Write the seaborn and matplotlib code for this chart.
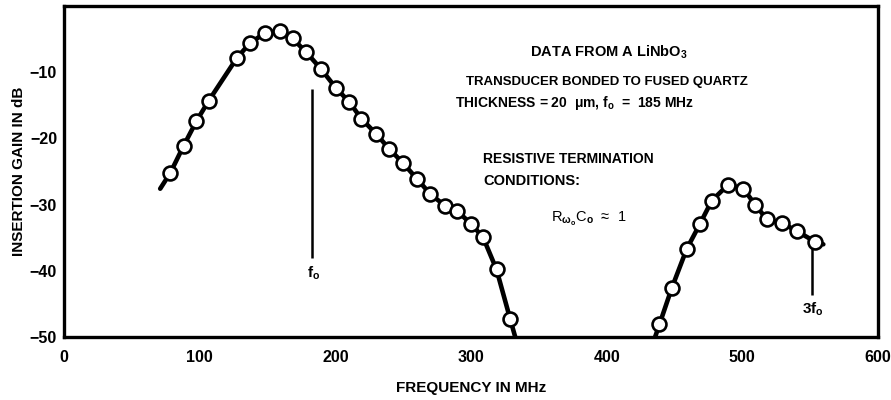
import matplotlib
matplotlib.use("Agg")
import matplotlib.pyplot as plt
import seaborn as sns
import pandas as pd

# ---- data ----
lobe1_freq = [78.4, 88.2, 97.6, 106.7, 127.6, 136.9, 147.9, 159.0, 168.5, 178.6,
              189.4, 200.5, 210.3, 219.1, 230.0, 239.8, 249.8, 260.1, 270.0, 281.0,
              289.6, 299.9, 308.8, 318.8, 328.9]
lobe1_gain = [-25.2, -21.1, -17.4, -14.3, -7.8, -5.65, -4.1, -3.74, -4.9, -7.0,
              -9.5, -12.4, -14.5, -17.0, -19.3, -21.6, -23.7, -26.1, -28.4, -30.2,
              -30.9, -32.9, -34.9, -39.8, -47.3]
lobe1_curve_ends_freq = [70.9, 332.6]
lobe1_curve_ends_gain = [-27.6, -50.0]

lobe2_freq = [438.9, 448.0, 459.0, 468.8, 477.5, 489.5, 500.8, 509.4, 518.0,
              529.5, 540.1, 553.6]
lobe2_gain = [-48.1, -42.6, -36.7, -32.9, -29.4, -27.0, -27.6, -30.0, -32.2,
              -32.8, -34.0, -35.6]
lobe2_curve_ends_freq = [435.7, 559.7]
lobe2_curve_ends_gain = [-50.0, -36.0]

marker_freq = [183.0, 551.0]
marker_top = [-12.6, -35.8]
marker_bottom = [-38.1, -43.6]
marker_labels = ["f$_\\mathbf{o}$", "3f$_\\mathbf{o}$"]

x_ticks = [0, 100, 200, 300, 400, 500, 600]
y_ticks = [-50, -40, -30, -20, -10]
y_tick_labels = ["\u221250", "\u221240", "\u221230", "\u221220", "\u221210"]

sns.set_style("white")
FONT = ["Liberation Sans", "DejaVu Sans"]
plt.rcParams["font.family"] = FONT
plt.rcParams["font.weight"] = "bold"
plt.rcParams["text.color"] = "black"
plt.rcParams["axes.labelcolor"] = "black"
plt.rcParams["xtick.color"] = "black"
plt.rcParams["ytick.color"] = "black"
plt.rcParams["mathtext.fontset"] = "custom"
plt.rcParams["mathtext.rm"] = "Liberation Sans"
plt.rcParams["mathtext.bf"] = "Liberation Sans:bold"
plt.rcParams["mathtext.it"] = "Liberation Sans:italic"
plt.rcParams["mathtext.default"] = "bf"

W, H = 891, 400
fig = plt.figure(figsize=(W / 100, H / 100), dpi=100)
ax = fig.add_axes([64 / W, 63 / H, (878 - 64) / W, (337 - 6) / H])

def curve(freq, gain, ends_f, ends_g):
    f = [ends_f[0]] + list(freq) + [ends_f[1]]
    g = [ends_g[0]] + list(gain) + [ends_g[1]]
    return pd.DataFrame({"f": f, "g": g})

for fr, gn, ef, eg in [(lobe1_freq, lobe1_gain, lobe1_curve_ends_freq, lobe1_curve_ends_gain),
                       (lobe2_freq, lobe2_gain, lobe2_curve_ends_freq, lobe2_curve_ends_gain)]:
    sns.lineplot(data=curve(fr, gn, ef, eg), x="f", y="g", sort=False,
                 color="black", linewidth=3.3, ax=ax, zorder=2)
    sns.scatterplot(x=fr, y=gn, s=100, color="white", edgecolor="black",
                    linewidth=1.9, ax=ax, zorder=3)

ax.vlines(marker_freq, marker_bottom, marker_top, color="black", linewidth=1.8)
for f, b, lab in zip(marker_freq, marker_bottom, marker_labels):
    ax.text(f + 1, b - 0.9, lab, ha="center", va="top", fontsize=11, fontweight="bold")

ax.set_xlim(0, 600)
ax.set_ylim(-50, 0)
ax.set_xticks(x_ticks)
ax.set_xticklabels([str(v) for v in x_ticks])
ax.set_yticks(y_ticks)
ax.set_yticklabels(y_tick_labels)
ax.tick_params(direction="in", length=12, width=2, labelsize=11.5, colors="black")
ax.tick_params(axis="x", pad=9)
ax.tick_params(axis="y", pad=5)
for lab in ax.get_xticklabels() + ax.get_yticklabels():
    lab.set_fontweight("bold")
for sp in ax.spines.values():
    sp.set_visible(True)
    sp.set_color("black")
    sp.set_linewidth(2.4)

ax.set_xlabel("FREQUENCY IN MHz", fontsize=11, fontweight="bold", labelpad=12)
ax.set_ylabel("INSERTION GAIN IN dB", fontsize=11, fontweight="bold", labelpad=3)

def ftext(x, y, s, **kw):
    fig.text(x / W, 1 - y / H, s, ha="left", va="baseline", **kw)

ftext(530, 57, "DATA FROM A LiNbO$_\\mathbf{3}$", fontsize=10.5, fontweight="bold")
ftext(466, 85, "TRANSDUCER BONDED TO FUSED QUARTZ", fontsize=9.5, fontweight="bold")
ftext(455, 107, "THICKNESS = 20  \u03bcm, f$_\\mathbf{o}$  =  185 MHz", fontsize=10, fontweight="bold")
ftext(483, 163, "RESISTIVE TERMINATION", fontsize=10, fontweight="bold")
ftext(483, 185, "CONDITIONS:", fontsize=10.5, fontweight="bold")
ftext(551, 222, "R$_{\\mathrm{\\omega_o}}$C$_\\mathrm{o}$  \u2248  1", fontsize=10.5,
      fontweight="normal")

fig.savefig("out.png", dpi=100)
